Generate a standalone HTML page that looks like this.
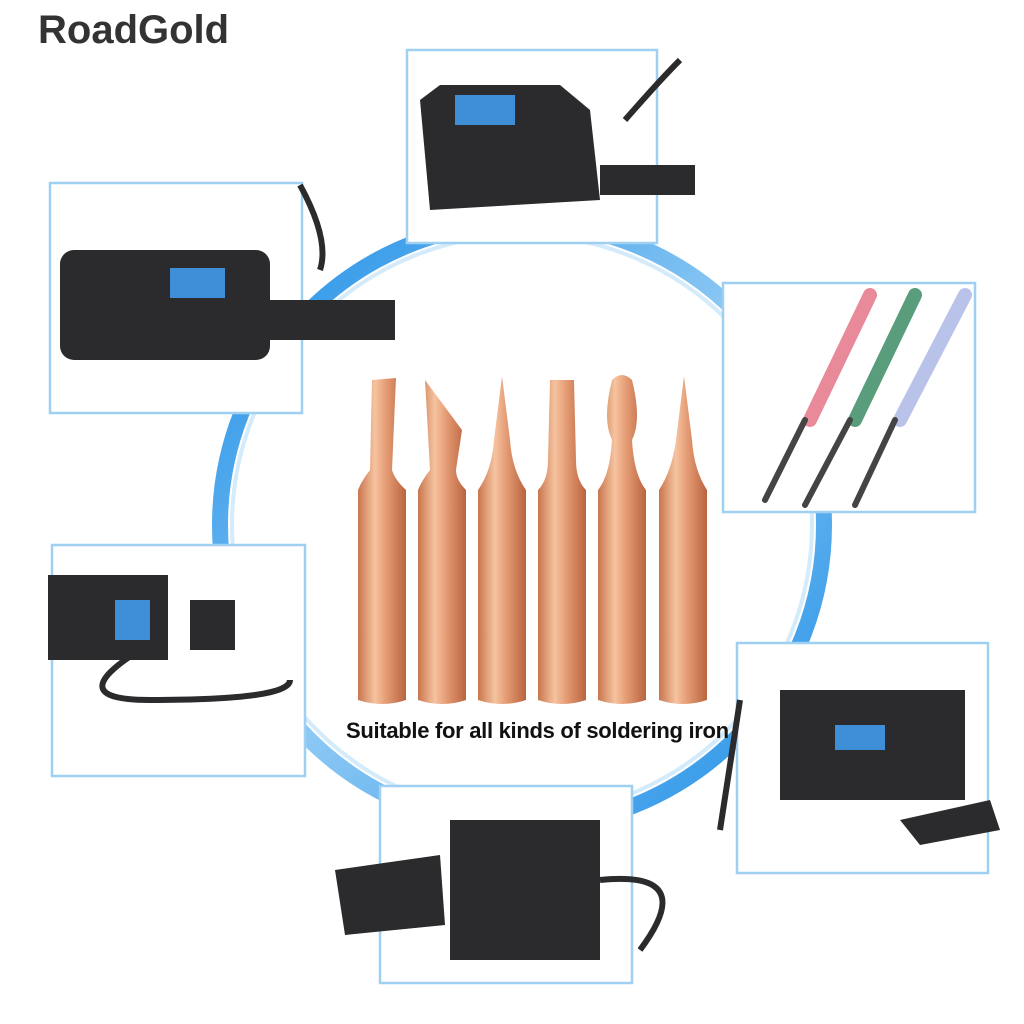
<!DOCTYPE html>
<html><head><meta charset="utf-8"><style>
html,body{margin:0;padding:0;background:#fff;width:1024px;height:1024px;overflow:hidden}
.t{position:absolute;font-family:"Liberation Sans",sans-serif}
</style></head><body>
<svg width="1024" height="1024" viewBox="0 0 1024 1024" style="position:absolute;left:0;top:0">
<defs>
<linearGradient id="cu" x1="0" x2="1" y1="0" y2="0">
<stop offset="0" stop-color="#c8764e"/><stop offset="0.35" stop-color="#f6c3a0"/><stop offset="0.6" stop-color="#e39a72"/><stop offset="1" stop-color="#b9643f"/>
</linearGradient>
<linearGradient id="ring" x1="0" y1="0" x2="1" y2="1">
<stop offset="0" stop-color="#1e8ee6"/><stop offset="0.5" stop-color="#8cc8f4"/><stop offset="1" stop-color="#1e8ee6"/>
</linearGradient>
</defs>
<circle cx="522" cy="525" r="302" fill="none" stroke="url(#ring)" stroke-width="16"/>
<circle cx="522" cy="525" r="290" fill="none" stroke="#d4ebfb" stroke-width="4"/>
<g fill="url(#cu)">
<path d="M358 490 L358 700 Q382 708 406 700 L406 490 Q395 480 392 470 L396 378 L372 380 L370 470 Q362 480 358 490Z"/>
<path d="M418 490 L418 700 Q442 708 466 700 L466 490 Q456 480 456 470 L462 430 L425 380 L430 470 Q422 480 418 490Z"/>
<path d="M478 490 L478 700 Q502 708 526 700 L526 490 Q512 470 510 440 L502 376 L494 440 Q492 470 478 490Z"/>
<path d="M538 490 L538 700 Q562 708 586 700 L586 490 Q576 480 576 460 L574 380 L550 380 L548 460 Q548 480 538 490Z"/>
<path d="M598 490 L598 700 Q622 708 646 700 L646 490 Q634 475 632 440 Q642 420 632 380 Q622 370 612 380 Q602 420 612 440 Q610 475 598 490Z"/>
<path d="M659 490 L659 700 Q683 708 707 700 L707 490 Q694 470 692 440 L684 376 L676 440 Q672 470 659 490Z"/>
</g>
<g fill="#fff" stroke="#9fd0f2" stroke-width="2.5">
<rect x="407" y="50" width="250" height="193"/>
<rect x="50" y="183" width="252" height="230"/>
<rect x="723" y="283" width="252" height="229"/>
<rect x="52" y="545" width="253" height="231"/>
<rect x="737" y="643" width="251" height="230"/>
<rect x="380" y="786" width="252" height="197"/>
</g>
<g fill="#2b2b2d">
<path d="M420 100 L440 85 L560 85 L590 110 L600 200 L430 210 Z"/>
<rect x="600" y="165" width="95" height="30"/>
<rect x="60" y="250" width="210" height="110" rx="14"/>
<rect x="270" y="300" width="125" height="40"/>
<rect x="48" y="575" width="120" height="85"/>
<rect x="190" y="600" width="45" height="50"/>
<rect x="780" y="690" width="185" height="110"/>
<path d="M900 820 L990 800 L1000 830 L920 845Z"/>
<rect x="450" y="820" width="150" height="140"/>
<path d="M335 870 L440 855 L445 925 L345 935Z"/>
</g>
<g fill="none" stroke="#2b2b2d" stroke-width="6">
<path d="M300 185 Q330 240 320 270"/>
<path d="M625 120 Q660 80 680 60"/>
<path d="M140 650 Q60 700 150 700 Q290 700 290 680"/>
<path d="M740 700 L720 830"/>
<path d="M600 880 Q700 870 640 950"/>
</g>
<g fill="#3f8fd8"><rect x="455" y="95" width="60" height="30"/><rect x="170" y="268" width="55" height="30"/><rect x="115" y="600" width="35" height="40"/><rect x="835" y="725" width="50" height="25"/></g>
<g stroke-width="14" stroke-linecap="round">
<line x1="870" y1="295" x2="810" y2="420" stroke="#e98a9a"/>
<line x1="915" y1="295" x2="855" y2="420" stroke="#5a9d7c"/>
<line x1="965" y1="295" x2="900" y2="420" stroke="#b9c3ea"/>
<line x1="805" y1="420" x2="765" y2="500" stroke="#444" stroke-width="6"/>
<line x1="850" y1="420" x2="805" y2="505" stroke="#444" stroke-width="6"/>
<line x1="895" y1="420" x2="855" y2="505" stroke="#444" stroke-width="6"/>
</g>
</svg>
<div class="t" style="left:38px;top:8px;font-size:40px;font-weight:bold;color:#333;">RoadGold</div>
<div class="t" style="left:346px;top:718px;font-size:22px;font-weight:bold;color:#111;white-space:nowrap;letter-spacing:-0.3px">Suitable for all kinds of soldering iron</div>
</body></html>
